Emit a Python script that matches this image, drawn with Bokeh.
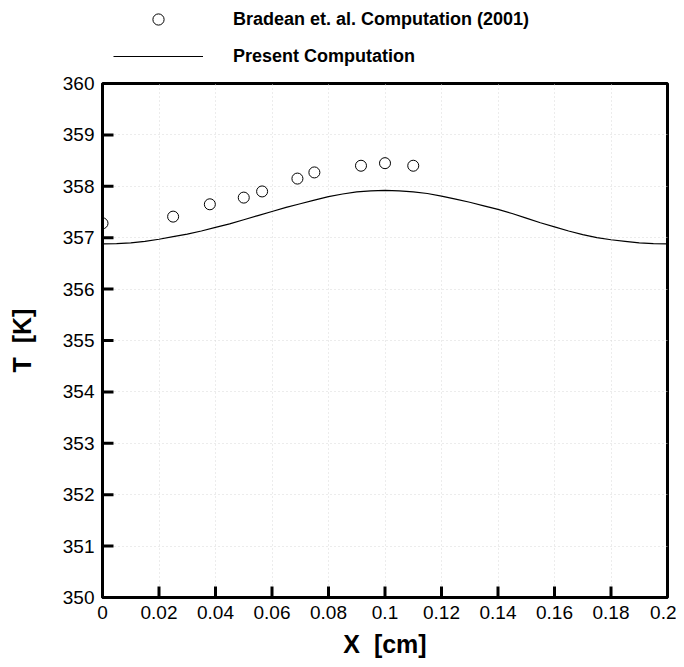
from bokeh.plotting import figure
from bokeh.layouts import column
from bokeh.models import Range1d, FixedTicker, Legend, LegendItem
from bokeh.embed import file_html
from bokeh.resources import INLINE

# Bradean et. al. Computation (2001)
bradean_x = [0.0, 0.025, 0.038, 0.050, 0.0565, 0.069, 0.075, 0.0915, 0.100, 0.110]
bradean_t = [357.28, 357.41, 357.65, 357.78, 357.90, 358.15, 358.27, 358.40, 358.45, 358.40]

# Present Computation
present_x = [0.000, 0.005, 0.010, 0.015, 0.020, 0.025, 0.030, 0.035, 0.040, 0.045,
             0.050, 0.055, 0.060, 0.065, 0.070, 0.075, 0.080, 0.085, 0.090, 0.095,
             0.100, 0.105, 0.110, 0.115, 0.120, 0.125, 0.130, 0.135, 0.140, 0.145,
             0.150, 0.155, 0.160, 0.165, 0.170, 0.175, 0.180, 0.185, 0.190, 0.195, 0.200]
present_t = [356.88, 356.885, 356.90, 356.93, 356.97, 357.02, 357.07, 357.13, 357.20, 357.27,
             357.35, 357.43, 357.51, 357.59, 357.66, 357.73, 357.80, 357.85, 357.89, 357.91,
             357.92, 357.91, 357.89, 357.86, 357.81, 357.75, 357.69, 357.62, 357.55, 357.47,
             357.38, 357.29, 357.21, 357.13, 357.06, 357.00, 356.96, 356.93, 356.90, 356.885, 356.88]

x_ticks = [0, 0.02, 0.04, 0.06, 0.08, 0.1, 0.12, 0.14, 0.16, 0.18, 0.2]
x_tick_labels = ["0", "0.02", "0.04", "0.06", "0.08", "0.1", "0.12", "0.14", "0.16", "0.18", "0.2"]
y_ticks = [350, 351, 352, 353, 354, 355, 356, 357, 358, 359, 360]
y_tick_labels = ["350", "351", "352", "353", "354", "355", "356", "357", "358", "359", "360"]
legend_labels = ["Bradean et. al. Computation (2001)", "Present Computation"]

FONT = "Liberation Sans"
X_MIN, X_MAX = 0, 0.2
Y_MIN, Y_MAX = 350, 360
FRAME_W, FRAME_H = 565, 514   # frame size in pixels
TICK_PX = 11                  # inward tick length in pixels

# ---------- main plot ----------
p = figure(width=676, height=592, output_backend="svg", toolbar_location=None,
           x_range=Range1d(X_MIN, X_MAX), y_range=Range1d(Y_MIN, Y_MAX),
           min_border_left=102, min_border_right=9, min_border_top=13, min_border_bottom=65)

p.outline_line_color = "black"
p.outline_line_width = 3
p.outline_line_alpha = 1.0
p.background_fill_color = "white"
p.border_fill_color = "white"

for ax in (p.xaxis[0], p.yaxis[0]):
    ax.axis_line_color = "black"
    ax.axis_line_width = 3
    ax.major_tick_in = 0
    ax.major_tick_out = 0
    ax.minor_tick_line_color = None
    ax.major_label_text_font = FONT
    ax.major_label_text_font_size = "19px"
    ax.major_label_text_color = "black"
    ax.axis_label_text_font = FONT
    ax.axis_label_text_font_style = "bold"
    ax.axis_label_text_font_size = "25px"
    ax.axis_label_text_color = "black"

p.xaxis[0].ticker = FixedTicker(ticks=x_ticks)
p.xaxis[0].major_label_overrides = dict(zip(x_ticks, x_tick_labels))
p.yaxis[0].ticker = FixedTicker(ticks=y_ticks)
p.yaxis[0].major_label_overrides = dict(zip(y_ticks, y_tick_labels))
p.xaxis[0].axis_label = "X \u00a0[cm]"
p.yaxis[0].axis_label = "T \u00a0[K]"
p.xaxis[0].major_label_standoff = 8
p.yaxis[0].major_label_standoff = 8
p.xaxis[0].axis_label_standoff = 8
p.yaxis[0].axis_label_standoff = 24

for g in (p.xgrid[0], p.ygrid[0]):
    g.grid_line_color = "#d8d8d8"
    g.grid_line_dash = "1 3"
    g.grid_line_width = 1

# inward major ticks, drawn from the tick values
dy = (Y_MAX - Y_MIN) * TICK_PX / FRAME_H
dx = (X_MAX - X_MIN) * TICK_PX / FRAME_W
p.segment(x0=x_ticks, y0=[Y_MIN] * len(x_ticks), x1=x_ticks, y1=[Y_MIN + dy] * len(x_ticks),
          line_color="black", line_width=3, line_cap="butt")
p.segment(x0=[X_MIN] * len(y_ticks), y0=y_ticks, x1=[X_MIN + dx] * len(y_ticks), y1=y_ticks,
          line_color="black", line_width=3, line_cap="butt")

p.line(present_x, present_t, line_color="black", line_width=1.2)
p.scatter(bradean_x, bradean_t, marker="circle", size=11,
          fill_color="white", line_color="black", line_width=1)

# ---------- legend strip above the plot ----------
lg = figure(width=676, height=70, output_backend="svg", toolbar_location=None,
            x_range=Range1d(0, 1), y_range=Range1d(0, 1),
            x_axis_location=None, y_axis_location=None,
            min_border=0, min_border_left=0, min_border_right=0,
            min_border_top=0, min_border_bottom=0)
lg.outline_line_color = None
lg.xgrid.visible = False
lg.ygrid.visible = False
# same series, out of this strip's view: only their legend glyphs show
lg_pts = lg.scatter(bradean_x, bradean_t, marker="circle", size=11,
                    fill_color="white", line_color="black", line_width=1)
lg_line = lg.line(present_x, present_t, line_color="black", line_width=1.2)

legend = Legend(items=[LegendItem(label=legend_labels[0], renderers=[lg_pts]),
                       LegendItem(label=legend_labels[1], renderers=[lg_line])],
                location=(11, 0), orientation="vertical",
                border_line_color=None, background_fill_alpha=0,
                padding=0, margin=0, spacing=9,
                glyph_width=90, glyph_height=28, label_height=28, label_standoff=30,
                label_text_font=FONT, label_text_font_style="bold",
                label_text_font_size="18px", label_text_color="black")
lg.add_layout(legend, "center")

layout = column(lg, p, spacing=0)
open("out.html", "w").write(file_html(layout, INLINE))
